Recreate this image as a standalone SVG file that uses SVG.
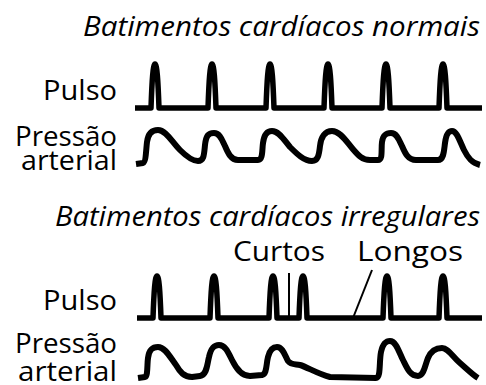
<svg xmlns="http://www.w3.org/2000/svg" width="486" height="385" viewBox="0 0 486 385">
<style>
.t{font-family:"Open Sans","Noto Sans",sans-serif;font-size:27px;fill:#000}
.ti{font-style:italic}
.p{fill:none;stroke:#000;stroke-width:5.5;stroke-linejoin:round;stroke-linecap:butt}
.w{fill:none;stroke:#000;stroke-width:6;stroke-linejoin:round;stroke-linecap:butt}
.thin{fill:none;stroke:#000;stroke-width:2}
</style>
<rect width="486" height="385" fill="#fff"/>
<g id="normal">
<text class="t ti" x="480" y="36" text-anchor="end" textLength="397" lengthAdjust="spacingAndGlyphs">Batimentos cardíacos normais</text>
<g id="pulso1"><text class="t" x="117" y="100" text-anchor="end" textLength="74" lengthAdjust="spacingAndGlyphs">Pulso</text></g>
<g id="pressao1"><text class="t" x="117" y="146" text-anchor="end" textLength="102" lengthAdjust="spacingAndGlyphs">Pressão</text><text class="t" x="117" y="170" text-anchor="end" textLength="96" lengthAdjust="spacingAndGlyphs">arterial</text></g>
</g>
<g id="irregular">
<text class="t ti" x="480" y="226" text-anchor="end" textLength="425" lengthAdjust="spacingAndGlyphs">Batimentos cardíacos irregulares</text>
<g id="curtos"><text class="t" x="233" y="261" textLength="92" lengthAdjust="spacingAndGlyphs">Curtos</text></g>
<g id="longos"><text class="t" x="357" y="261" textLength="106" lengthAdjust="spacingAndGlyphs">Longos</text></g>
<g id="pulso2"><text class="t" x="117" y="310" text-anchor="end" textLength="74" lengthAdjust="spacingAndGlyphs">Pulso</text></g>
<g id="pressao2"><text class="t" x="117" y="353" text-anchor="end" textLength="102" lengthAdjust="spacingAndGlyphs">Pressão</text><text class="t" x="117" y="381" text-anchor="end" textLength="99" lengthAdjust="spacingAndGlyphs">arterial</text></g>
</g>
<g id="connectors">
<path class="p" d="M135,108 H151 C152,80 153,64 155,64 C157,64 158,80 159,108 H208 C209,80 210,64 212,64 C214,64 215,80 216,108 H266 C267,80 268,64 270,64 C272,64 273,80 274,108 H324 C325,80 326,64 328,64 C330,64 331,80 332,108 H382 C383,80 384,64 386,64 C388,64 389,80 390,108 H439 C440,80 441,64 443,64 C445,64 446,80 447,108 H482"/>
<path class="w" d="M136,164 L143,163 C146,162 146,150 147,142 C148,134 152,130 158,130 C166,130 172,142 180,150 C186,156 192,161 198,161 C204,161 204,155 205,145 C206,136 208,133 214,133 C220,133 222,140 225,146 C228,153 231,160 238,160 L258,160 C263,160 262,150 263,143 C264,135 267,131 272,131 C279,131 284,140 290,147 C297,154 304,161 312,161 C318,161 319,155 320,146 C321,137 325,131 332,131 C340,131 346,141 352,148 C358,155 362,160 370,160 L378,160 C383,160 381,150 382,142 C383,135 386,133 391,133 C397,133 399,140 402,146 C405,153 408,160 416,160 L438,160 C444,160 444,150 445,143 C446,135 448,131 452,131 C457,131 460,142 464,150 C468,158 472,163 480,165"/>
<path class="p" d="M137,318 H153 C154,290 155,276 157,276 C159,276 160,290 161,318 H210 C211,290 212,276 214,276 C216,276 217,290 218,318 H269 C270,290 271,276 273,276 C275,276 276,290 277,318 H299 C300,290 301,276 303,276 C305,276 306,290 307,318 H383 C384,290 385,276 387,276 C389,276 390,290 391,318 H439 C440,290 441,276 443,276 C445,276 446,290 447,318 H482"/>
<line class="thin" x1="289" y1="273" x2="289" y2="318"/>
<line class="thin" x1="372" y1="270" x2="353" y2="318"/>
<path class="w" d="M138,378 L145,377 C148,376 147,365 148,358 C149,350 152,347 158,347 C165,347 170,357 176,365 C180,372 184,377 192,377 L200,376 C207,375 207,365 209,357 C211,348 214,345 219,345 C225,345 228,352 232,360 C236,368 241,376 250,376 L262,375 C267,374 266,365 268,357 C270,349 273,347 277,347 C283,347 285,356 288,361 C291,365 295,364 300,365 C307,367 318,374 330,377 L376,378 C381,378 379,362 381,352 C383,343 386,341 390,341 C396,341 399,352 403,360 C407,368 410,376 418,376 C424,376 425,365 428,358 C431,351 435,348 442,348 C448,348 452,356 460,363 C468,370 473,375 478,378"/>
</g>
</svg>
